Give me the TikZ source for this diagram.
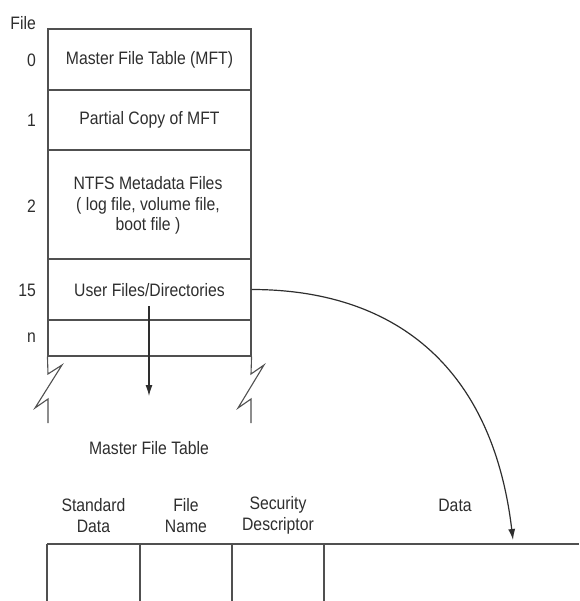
\documentclass[tikz,border=0pt]{standalone}
\usepackage{fontspec}
\setmainfont{Liberation Sans}[FakeStretch=0.875]
\usetikzlibrary{arrows.meta}
\definecolor{ink}{HTML}{2E2E2E}
\definecolor{rule}{HTML}{505050}
\begin{document}
\begin{tikzpicture}[x=1pt,y=-1pt,
  txt/.style={text=ink,font=\fontsize{18}{20.5}\selectfont,inner sep=0pt,align=center},
  num/.style={txt,anchor=east},
  cellbox/.style={draw=rule,line width=1.1pt,minimum width=203pt,inner sep=0pt},
  ln/.style={draw=rule,line width=1.1pt},
  arr/.style={draw=ink,line width=1.2pt,-{Latex[length=11pt,width=7pt]}}]
\useasboundingbox (0,0) rectangle (579,601);
% top table cells
\node[cellbox,minimum height=61pt] (c0) at (149.5,59.5) {};
\node[cellbox,minimum height=60pt] (c1) at (149.5,120) {};
\node[cellbox,minimum height=109pt] (c2) at (149.5,204.5) {};
\node[cellbox,minimum height=61pt] (c15) at (149.5,289.5) {};
\node[cellbox,minimum height=36pt] (cn) at (149.5,338) {};
% texts in cells
\node[txt] (t0) at (149.5,60) {Master File Table (MFT)};
\node[txt] (t1) at (149.5,120) {Partial Copy of MFT};
\node[txt] (t2) at (148,205.5) {NTFS Metadata Files\\( log file, volume file,\\boot file )};
\node[txt] (t15) at (149.5,290) {User Files/Directories};
% row numbers
\node[num] (lf) at (36,23) {File};
\node[num] (l0) at (36,60) {0};
\node[num] (l1) at (36,120) {1};
\node[num] (l2) at (36,206) {2};
\node[num] (l15) at (36,290) {15};
\node[num] (ln) at (36,338) {n};
% broken walls
\draw[ln,line join=miter] (cn.south west) -- (48,374) -- (62,365) -- (35,408) -- (48,399) -- (48,423);
\draw[ln,line join=miter] (cn.south east) -- (251,374) -- (264,365) -- (238,408) -- (251,399) -- (251,423);
% down arrow
\coordinate (dtip) at (149,396);
\draw[arr] (149,306) -- (dtip);
% bottom caption
\node[txt] (mft) at (149,448) {Master File Table};
% bottom table
\coordinate (bl) at (47,544);
\coordinate (br) at (579,544);
\draw[ln] (bl) -- (br);
\draw[ln] (47,544) -- (47,601);
\draw[ln] (140,544) -- (140,601);
\draw[ln] (232,544) -- (232,601);
\draw[ln] (324,544) -- (324,601);
\node[txt] (h1) at (93.5,515.5) {Standard\\Data};
\node[txt] (h2) at (186,515.5) {File\\Name};
\node[txt] (h3) at (278,515.5) {Security\\Descriptor};
\node[txt] (h4) at (455,505) {Data};
% curved arrow
\coordinate (ctip) at (513,540);
\draw[arr] (c15.east) .. controls (391,289.5) and (492,363) .. (ctip);
\end{tikzpicture}
\end{document}
